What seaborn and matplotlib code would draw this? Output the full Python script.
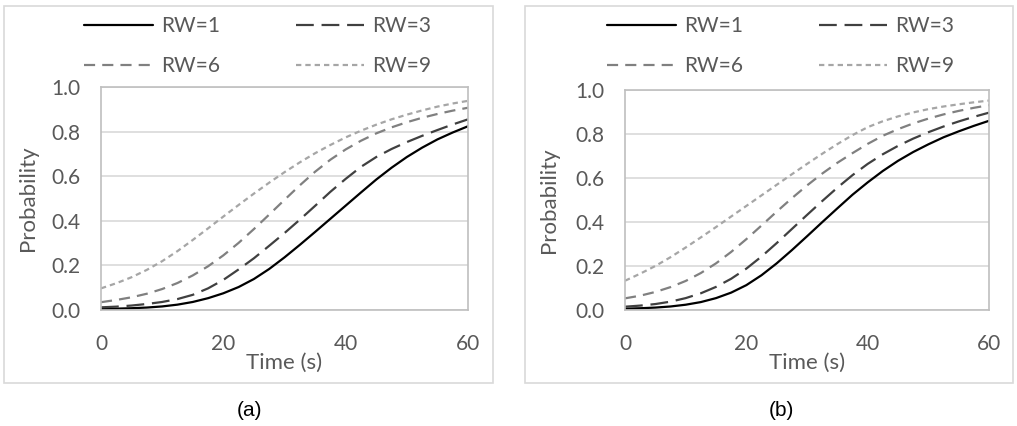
import matplotlib
matplotlib.use("Agg")
import matplotlib.pyplot as plt
from matplotlib.patches import Rectangle
import pandas as pd
import seaborn as sns

# ---- data -------------------------------------------------------------
time_s = [0, 2.5, 5, 7.5, 10, 12.5, 15, 17.5, 20, 22.5, 25, 27.5, 30,
          32.5, 35, 37.5, 40, 42.5, 45, 47.5, 50, 52.5, 55, 57.5, 60]
series_labels = ["RW=1", "RW=3", "RW=6", "RW=9"]

# panel (a)
a_rw1 = [0.005, 0.006, 0.008, 0.011, 0.016, 0.024, 0.036, 0.053, 0.075, 0.103, 0.139, 0.184, 0.236,
         0.292, 0.350, 0.409, 0.468, 0.527, 0.585, 0.638, 0.686, 0.728, 0.765, 0.796, 0.824]
a_rw3 = [0.012, 0.015, 0.020, 0.027, 0.036, 0.049, 0.068, 0.097, 0.135, 0.182, 0.232, 0.288, 0.345,
         0.405, 0.467, 0.530, 0.588, 0.642, 0.686, 0.722, 0.753, 0.781, 0.807, 0.832, 0.855]
a_rw6 = [0.035, 0.045, 0.057, 0.073, 0.094, 0.121, 0.155, 0.196, 0.245, 0.301, 0.363, 0.428, 0.494,
         0.559, 0.620, 0.674, 0.720, 0.759, 0.792, 0.819, 0.842, 0.862, 0.879, 0.894, 0.907]
a_rw9 = [0.097, 0.120, 0.147, 0.180, 0.219, 0.264, 0.314, 0.366, 0.419, 0.471, 0.522, 0.571, 0.618,
         0.662, 0.703, 0.740, 0.774, 0.804, 0.831, 0.855, 0.876, 0.895, 0.912, 0.926, 0.938]

# panel (b)
b_rw1 = [0.006, 0.008, 0.011, 0.016, 0.024, 0.036, 0.054, 0.079, 0.113, 0.158, 0.212, 0.272, 0.335,
         0.399, 0.462, 0.524, 0.580, 0.632, 0.678, 0.718, 0.753, 0.785, 0.812, 0.837, 0.860]
b_rw3 = [0.015, 0.020, 0.027, 0.038, 0.054, 0.076, 0.105, 0.142, 0.188, 0.243, 0.304, 0.368, 0.432,
         0.495, 0.556, 0.613, 0.664, 0.708, 0.746, 0.779, 0.808, 0.834, 0.857, 0.878, 0.897]
b_rw6 = [0.053, 0.065, 0.082, 0.104, 0.132, 0.168, 0.212, 0.264, 0.322, 0.384, 0.447, 0.508, 0.566,
         0.620, 0.669, 0.713, 0.755, 0.792, 0.822, 0.848, 0.870, 0.889, 0.905, 0.919, 0.931]
b_rw9 = [0.133, 0.165, 0.200, 0.240, 0.284, 0.330, 0.377, 0.425, 0.473, 0.521, 0.569, 0.617, 0.664,
         0.710, 0.754, 0.795, 0.831, 0.858, 0.880, 0.898, 0.913, 0.925, 0.935, 0.944, 0.952]

x_ticks = [0, 20, 40, 60]
y_ticks = [0.0, 0.2, 0.4, 0.6, 0.8, 1.0]
panel_captions = ["(a)", "(b)"]

# ---- styling ----------------------------------------------------------
sns.set_theme(style="white")
plt.rcParams["font.family"] = ["Lato", "DejaVu Sans"]

TEXT = "#595959"
GRID = "#D9D9D9"
colors = dict(zip(series_labels, ["#000000", "#404040", "#808080", "#A6A6A6"]))
dashes = dict(zip(series_labels, ["", (8, 3.5), (5, 3.2), (2.4, 1.8)]))

W, H = 1017, 426
fig = plt.figure(figsize=(W / 100, H / 100), dpi=100)


def fx(px):
    return px / W


def fy(py):
    return 1 - py / H


def long_form(cols):
    frames = []
    for lab, vals in zip(series_labels, cols):
        frames.append(pd.DataFrame({"Time": time_s, "Probability": vals, "series": lab}))
    return pd.concat(frames, ignore_index=True)


panels = [
    dict(data=[a_rw1, a_rw3, a_rw6, a_rw9], box=(4, 6, 493, 383), plot=(101, 87, 468, 310),
         legend_c=(258, 46), ylabel_x=38, caption_x=250),
    dict(data=[b_rw1, b_rw3, b_rw6, b_rw9], box=(525, 6, 1013, 383), plot=(625, 90, 989, 310),
         legend_c=(781, 46), ylabel_x=559, caption_x=781),
]

for p, cap in zip(panels, panel_captions):
    bx0, by0, bx1, by1 = p["box"]
    fig.patches.append(Rectangle((fx(bx0), fy(by1)), fx(bx1 - bx0), (by1 - by0) / H,
                                 transform=fig.transFigure, fill=False,
                                 edgecolor=GRID, linewidth=1.2, zorder=0))

    px0, py0, px1, py1 = p["plot"]
    ax = fig.add_axes([fx(px0), fy(py1), fx(px1 - px0), (py1 - py0) / H])
    df = long_form(p["data"])
    sns.lineplot(data=df, x="Time", y="Probability", hue="series", style="series",
                 hue_order=series_labels, style_order=series_labels,
                 palette=colors, dashes=dashes, linewidth=1.6, legend=False, ax=ax)

    ax.set_xlim(0, 60)
    ax.set_ylim(0, 1.0)
    ax.set_xticks(x_ticks)
    ax.set_yticks(y_ticks)
    ax.set_yticklabels([f"{v:.1f}" for v in y_ticks])
    ax.tick_params(axis="both", length=0, labelsize=15, colors=TEXT)
    ax.tick_params(axis="x", pad=17)
    ax.tick_params(axis="y", pad=15)
    ax.grid(axis="y", color=GRID, linewidth=1.2)
    ax.grid(axis="x", visible=False)
    for s in ax.spines.values():
        s.set_visible(True)
        s.set_color("#BFBFBF")
        s.set_linewidth(1.2)

    ax.set_xlabel("Time (s)", fontsize=16, color=TEXT)
    ax.set_ylabel("Probability", fontsize=16, color=TEXT)
    ax.xaxis.set_label_coords(0.5, (py1 - 353) / (py1 - py0))
    ax.yaxis.set_label_coords((p["ylabel_x"] - px0) / (px1 - px0), 0.5)

    lines = ax.get_lines()[:4]
    # two columns, filled row by row: RW=1 | RW=3 on top, RW=6 | RW=9 below
    order = [0, 2, 1, 3]
    fig.legend([lines[i] for i in order], [series_labels[i] for i in order],
               ncol=2, loc="center", bbox_to_anchor=(fx(p["legend_c"][0]), fy(p["legend_c"][1])),
               frameon=False, fontsize=15, labelcolor=TEXT, handlelength=3.3,
               handletextpad=0.4, columnspacing=3.6, labelspacing=0.95, borderpad=0)

    fig.text(fx(p["caption_x"]), fy(410), cap, ha="center", va="center",
             fontsize=15, color="black", family=["Liberation Sans", "DejaVu Sans"])

fig.savefig("out.png", dpi=100, facecolor="white")
